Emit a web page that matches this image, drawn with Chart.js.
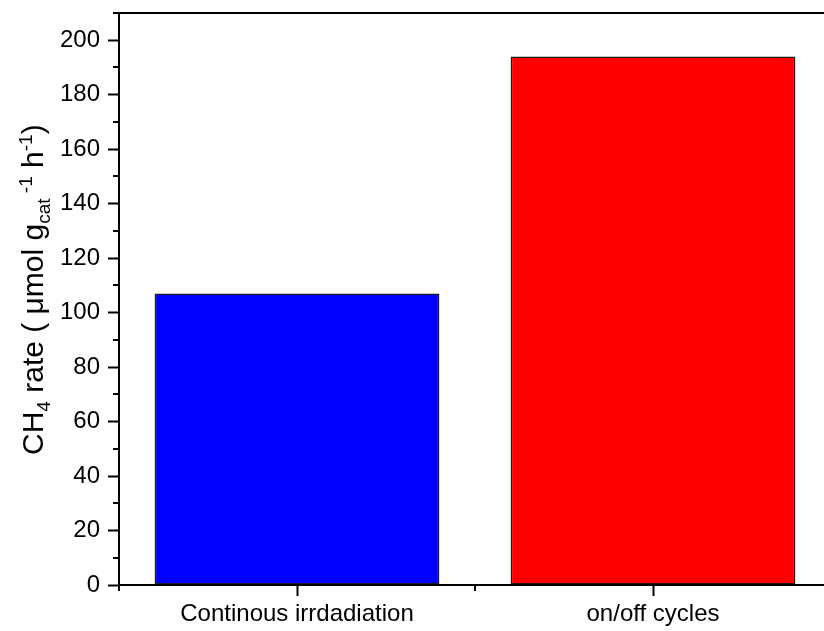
<!DOCTYPE html>
<html>
<head>
<meta charset="utf-8">
<script src="https://cdn.jsdelivr.net/npm/chart.js@4"></script>
<style>
  html, body { margin: 0; padding: 0; background: #fff; overflow: hidden; }
  #wrap { width: 824px; height: 631px; overflow: hidden; }
  #wrap canvas { display: block; }
</style>
</head>
<body>
<div id="wrap"><canvas id="chart" width="832" height="631"></canvas></div>
<script>
const categories = ['Continous irrdadiation', 'on/off cycles']
const rates = [107, 194]
const barColors = ['#0000ff', '#ff0000']
const yMajorTicks = [0, 20, 40, 60, 80, 100, 120, 140, 160, 180, 200]
const yMinorTicks = [10, 30, 50, 70, 90, 110, 130, 150, 170, 190, 210]

const FONT = '"Liberation Sans", Arial, sans-serif'

// minor ticks, top frame line and the rich-text y title
const extras = {
  id: 'extras',
  afterDraw (chart) {
    const ctx = chart.ctx
    const { x, y } = chart.scales
    const area = chart.chartArea
    ctx.save()
    ctx.strokeStyle = '#000'
    ctx.lineWidth = 2
    ctx.beginPath()
    yMinorTicks.forEach(v => {
      const py = Math.round(y.getPixelForValue(v))
      ctx.moveTo(area.left - 6, py)
      ctx.lineTo(area.left, py)
    })
    const step = x.getPixelForValue(1) - x.getPixelForValue(0)
    for (let i = 0; i <= categories.length; i++) {
      const px = Math.round(x.getPixelForValue(0) - step / 2 + i * step)
      ctx.moveTo(px, area.bottom)
      ctx.lineTo(px, area.bottom + 6)
    }
    ctx.moveTo(area.left - 1, area.top)
    ctx.lineTo(area.right, area.top)
    ctx.stroke()

    // y axis title with sub/superscripts
    const parts = [
      { t: 'CH', s: 30, dy: 0 },
      { t: '4', s: 19, dy: 7 },
      { t: ' rate ( \u03bcmol g', s: 30, dy: 0 },
      { t: 'cat', s: 19, dy: 7 },
      { t: ' -1', s: 19, dy: -11 },
      { t: ' h', s: 30, dy: 0 },
      { t: '-1', s: 19, dy: -11 },
      { t: ')', s: 30, dy: 0 }
    ]
    ctx.translate(43, 455)
    ctx.rotate(-Math.PI / 2)
    ctx.fillStyle = '#000'
    ctx.textBaseline = 'alphabetic'
    ctx.textAlign = 'left'
    let cx = 0
    parts.forEach(p => {
      ctx.font = p.s + 'px ' + FONT
      ctx.fillText(p.t, cx, p.dy)
      cx += ctx.measureText(p.t).width
    })
    ctx.restore()
  }
}

new Chart(document.getElementById('chart').getContext('2d'), {
  type: 'bar',
  data: {
    labels: categories,
    datasets: [
      {
        data: rates,
        backgroundColor: barColors,
        borderColor: '#1a1a1a',
        borderWidth: 1.5,
        borderSkipped: false,
        categoryPercentage: 1,
        barPercentage: 0.8
      }
    ]
  },
  options: {
    responsive: false,
    animation: false,
    layout: { padding: { top: 13, right: 1, left: 0, bottom: 0 } },
    plugins: {
      legend: { display: false },
      tooltip: { enabled: false }
    },
    scales: {
      x: {
        offset: true,
        grid: {
          display: true,
          offset: false,
          drawOnChartArea: false,
          drawTicks: true,
          tickLength: 11,
          tickColor: '#000',
          tickWidth: 2
        },
        border: { display: true, color: '#000', width: 2 },
        ticks: {
          color: '#000',
          padding: 4,
          maxRotation: 0,
          font: { family: FONT, size: 24 }
        },
        afterFit (scale) {
          scale.height = 46
          scale.paddingLeft = 0
          scale.paddingRight = 0
        }
      },
      y: {
        min: 0,
        max: 210,
        grid: {
          display: true,
          drawOnChartArea: false,
          drawTicks: true,
          tickLength: 11,
          tickColor: '#000',
          tickWidth: 2
        },
        border: { display: true, color: '#000', width: 2 },
        ticks: {
          color: '#000',
          padding: 8,
          font: { family: FONT, size: 24 }
        },
        afterBuildTicks (scale) { scale.ticks = yMajorTicks.map(v => ({ value: v })) },
        afterFit (scale) {
          scale.width = 119
          scale.paddingTop = 0
          scale.paddingBottom = 0
        }
      }
    }
  },
  plugins: [extras]
})
</script>
</body>
</html>
